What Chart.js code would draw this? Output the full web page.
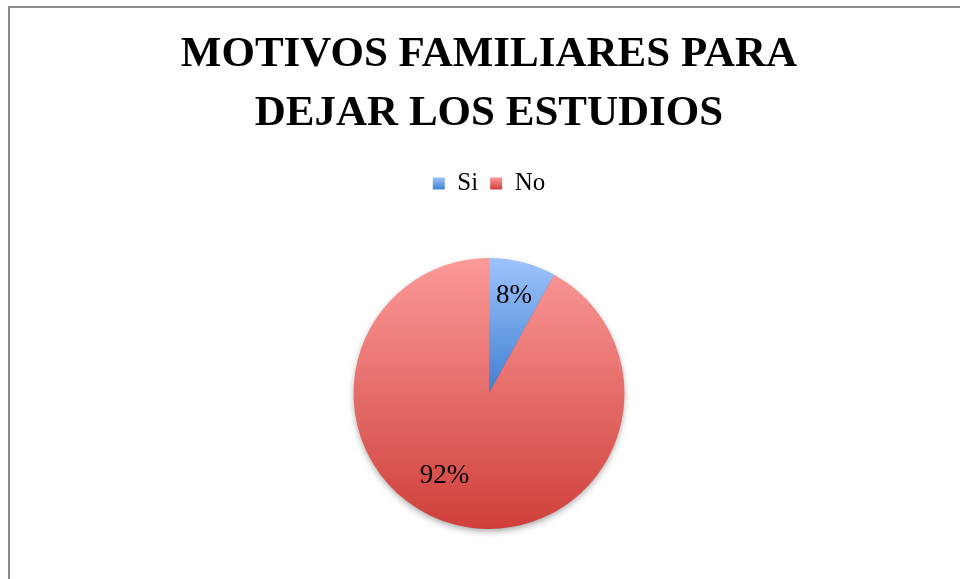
<!DOCTYPE html>
<html>
<head>
<meta charset="utf-8">
<script src="https://cdn.jsdelivr.net/npm/chart.js@4.4.0/dist/chart.umd.min.js"></script>
<style>
  html, body { margin: 0; padding: 0; background: #ffffff; overflow: hidden; }
  #wrap { position: relative; width: 960px; height: 579px; }
  #frame { position: absolute; left: 8px; top: 6px; width: 1000px; height: 1000px;
           border-left: 2px solid #8a8a8a; border-top: 2px solid #8a8a8a; box-sizing: border-box; }
  canvas { position: absolute; left: 0; top: 0; }
</style>
</head>
<body>
<div id="wrap">
  <div id="frame"></div>
  <canvas id="c" width="960" height="579"></canvas>
</div>
<script>
// ---- data ----
const titleLines = ['MOTIVOS FAMILIARES PARA', 'DEJAR LOS ESTUDIOS'];
const categories = ['Si', 'No'];
const values = [8, 92];
const valueLabels = ['8%', '92%'];

// ---- styles ----
const gradTop = ['#9ec4fd', '#fb9a98'];
const gradBottom = ['#3f7fd0', '#cf3f3a'];
const legendColors = ['#6e9fe6', '#e46a66'];
const labelAngleShift = [0, 14];   // degrees
const labelRadius = [0.74, 0.69];

const legendExtra = {
  id: 'legendExtra',
  beforeInit(chart) {
    const origFit = chart.legend.fit;
    chart.legend.fit = function () {
      origFit.call(this);
      this.height += 52;
    };
  }
};

const legendGradient = {
  id: 'legendGradient',
  beforeDraw(chart) {
    const lg = chart.legend;
    if (!lg || !lg.legendItems || !lg.legendHitBoxes) return;
    const ctx = chart.ctx;
    lg.legendItems.forEach((item, i) => {
      const hb = lg.legendHitBoxes[i];
      if (!hb) return;
      const cy = hb.top + hb.height / 2;
      const g = ctx.createLinearGradient(0, cy - 6, 0, cy + 6);
      g.addColorStop(0, gradTop[i]);
      g.addColorStop(1, gradBottom[i]);
      item.fillStyle = g;
    });
  }
};

const gradientAndShadow = {
  id: 'gradientAndShadow',
  beforeDatasetsDraw(chart) {
    const ctx = chart.ctx;
    const meta = chart.getDatasetMeta(0);
    if (meta.data.length) {
      const a0 = meta.data[0].getProps(['x', 'y', 'outerRadius'], true);
      ctx.save();
      ctx.shadowColor = 'rgba(0,0,0,0.38)';
      ctx.shadowBlur = 7;
      ctx.shadowOffsetY = 3;
      ctx.beginPath();
      ctx.arc(a0.x, a0.y, a0.outerRadius - 1, 0, Math.PI * 2);
      ctx.fillStyle = '#d04a45';
      ctx.fill();
      ctx.restore();
    }
    meta.data.forEach((arc, i) => {
      const p = arc.getProps(['x', 'y', 'startAngle', 'endAngle', 'outerRadius'], true);
      const ys = [p.y, p.y + Math.sin(p.startAngle) * p.outerRadius, p.y + Math.sin(p.endAngle) * p.outerRadius];
      const inRange = (ang) => {
        let a = ang;
        while (a < p.startAngle) a += Math.PI * 2;
        return a <= p.endAngle;
      };
      if (inRange(-Math.PI / 2)) ys.push(p.y - p.outerRadius);
      if (inRange(Math.PI / 2)) ys.push(p.y + p.outerRadius);
      const g = ctx.createLinearGradient(0, Math.min(...ys), 0, Math.max(...ys));
      g.addColorStop(0, gradTop[i]);
      g.addColorStop(1, gradBottom[i]);
      arc.options.backgroundColor = g;
    });
  }
};

const valueLabelPlugin = {
  id: 'valueLabelPlugin',
  afterDatasetsDraw(chart) {
    const ctx = chart.ctx;
    const meta = chart.getDatasetMeta(0);
    ctx.save();
    ctx.font = '27px "Liberation Serif", serif';
    ctx.fillStyle = '#000000';
    ctx.textAlign = 'center';
    ctx.textBaseline = 'middle';
    meta.data.forEach((arc, i) => {
      const p = arc.getProps(['x', 'y', 'startAngle', 'endAngle', 'outerRadius'], true);
      const mid = (p.startAngle + p.endAngle) / 2 + labelAngleShift[i] * Math.PI / 180;
      const r = p.outerRadius * labelRadius[i];
      ctx.fillText(valueLabels[i], p.x + Math.cos(mid) * r, p.y + Math.sin(mid) * r);
    });
    ctx.restore();
  }
};

new Chart(document.getElementById('c'), {
  type: 'pie',
  data: {
    labels: categories,
    datasets: [{
      data: values,
      backgroundColor: legendColors,
      borderWidth: 0
    }]
  },
  options: {
    responsive: false,
    animation: false,
    layout: { padding: { left: 18, right: 0, top: 0, bottom: 50 } },
    plugins: {
      title: {
        display: true,
        text: titleLines,
        color: '#000000',
        font: { family: '"Liberation Serif", serif', size: 43, weight: 'bold', lineHeight: 1.36 },
        padding: { top: 26, bottom: 16 }
      },
      legend: {
        display: true,
        position: 'top',
        labels: {
          color: '#000000',
          boxWidth: 12,
          boxHeight: 12,
          padding: 12,
          font: { family: '"Liberation Serif", serif', size: 25 },
          generateLabels(chart) {
            return categories.map((c, i) => ({
              text: c,
              fillStyle: legendColors[i],
              strokeStyle: legendColors[i],
              lineWidth: 0,
              hidden: false,
              index: i,
              datasetIndex: 0
            }));
          }
        }
      },
      tooltip: { enabled: false }
    }
  },
  plugins: [legendExtra, legendGradient, gradientAndShadow, valueLabelPlugin]
});
</script>
</body>
</html>
